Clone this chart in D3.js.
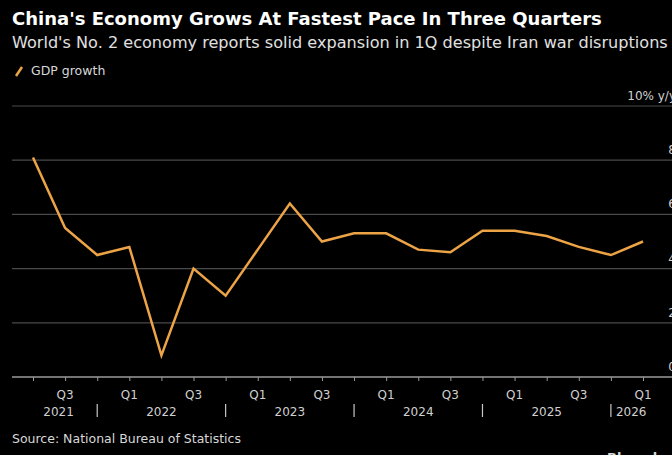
<!DOCTYPE html>
<html>
<head>
<meta charset="utf-8">
<script src="https://cdn.jsdelivr.net/npm/d3@7"></script>
<style>
  html, body { margin: 0; padding: 0; background: #000; overflow: hidden; }
  svg { display: block; }
  text { font-family: "DejaVu Sans", Verdana, sans-serif; }
</style>
</head>
<body>
<svg id="chart" width="672" height="455"></svg>
<script>
// Quarterly real GDP growth, % y/y
const quarters = [
  "2021Q2","2021Q3","2021Q4",
  "2022Q1","2022Q2","2022Q3","2022Q4",
  "2023Q1","2023Q2","2023Q3","2023Q4",
  "2024Q1","2024Q2","2024Q3","2024Q4",
  "2025Q1","2025Q2","2025Q3","2025Q4",
  "2026Q1"
];
const gdpGrowth = [
  8.1, 5.5, 4.5,
  4.8, 0.8, 4.0, 3.0,
  4.7, 6.4, 5.0, 5.3,
  5.3, 4.7, 4.6, 5.4,
  5.4, 5.2, 4.8, 4.5,
  5.0
];
const yTicks = [0, 2, 4, 6, 8, 10];
const yTickLabels = ["0", "2", "4", "6", "8", "10% y/y"];
const years = ["2021", "2022", "2023", "2024", "2025", "2026"];

const title = "China's Economy Grows At Fastest Pace In Three Quarters";
const subtitle = "World's No. 2 economy reports solid expansion in 1Q despite Iran war disruptions";
const legendLabel = "GDP growth";
const sourceNote = "Source: National Bureau of Statistics";

const W = 672, H = 455;
const plotLeft = 12, plotRight = 672;
const lineColor = "#eda446";
const labelColor = "#d0d0d0";

const svg = d3.select("#chart");
svg.append("rect").attr("width", W).attr("height", H).attr("fill", "#000");

const x = d3.scalePoint().domain(quarters).range([33, 643]);
const y = d3.scaleLinear().domain([0, 10]).range([377, 106]);

// Headline block
svg.append("text").attr("x", 12).attr("y", 25)
  .attr("fill", "#fff").attr("font-size", 18).attr("font-weight", "bold")
  .text(title);
svg.append("text").attr("x", 12).attr("y", 48)
  .attr("fill", "#e0e0e0").attr("font-size", 16.1)
  .text(subtitle);

// Legend
const leg = svg.append("g");
leg.append("line").attr("x1", 16).attr("y1", 76).attr("x2", 22).attr("y2", 67)
  .attr("stroke", lineColor).attr("stroke-width", 2.5);
leg.append("text").attr("x", 31).attr("y", 75)
  .attr("fill", "#d8d8d8").attr("font-size", 12.5)
  .text(legendLabel);

// Horizontal gridlines with right-hand labels
const grid = svg.append("g");
yTicks.forEach((t, i) => {
  if (t > 0) {
    grid.append("line")
      .attr("x1", plotLeft).attr("x2", plotRight)
      .attr("y1", y(t)).attr("y2", y(t))
      .attr("stroke", "#4a4a4a").attr("stroke-width", 1.2);
  }
  grid.append("text")
    .attr("x", 676).attr("y", y(t) - 6)
    .attr("text-anchor", "end")
    .attr("fill", labelColor).attr("font-size", 12)
    .text(yTickLabels[i]);
});

// Bottom axis with a tick at every quarter
const xAxis = d3.axisBottom(x)
  .tickSize(4)
  .tickFormat(() => "");
const axisG = svg.append("g").attr("transform", `translate(0,${y(0)})`).call(xAxis);
axisG.select(".domain").remove();
axisG.selectAll(".tick line").attr("stroke", "#9a9a9a").attr("stroke-width", 1);
axisG.append("line").attr("x1", plotLeft).attr("x2", plotRight)
  .attr("y1", 0).attr("y2", 0).attr("stroke", "#9a9a9a").attr("stroke-width", 1.3);

// Quarter labels on Q1 and Q3
const qLabels = quarters.filter(q => q.endsWith("Q1") || q.endsWith("Q3"));
svg.append("g").selectAll("text").data(qLabels).join("text")
  .attr("x", d => x(d)).attr("y", 399)
  .attr("text-anchor", "middle")
  .attr("fill", labelColor).attr("font-size", 12)
  .text(d => d.slice(4));

// Year labels, centred between year separators placed at each Q4
const q4 = quarters.filter(q => q.endsWith("Q4"));
const seps = q4.map(q => x(q));
const bounds = [plotLeft + 8].concat(seps).concat([x(quarters[quarters.length - 1])]);
svg.append("g").selectAll("line").data(seps).join("line")
  .attr("x1", d => d).attr("x2", d => d)
  .attr("y1", 404).attr("y2", 417)
  .attr("stroke", "#c8c8c8").attr("stroke-width", 1.2);
svg.append("g").selectAll("text").data(years).join("text")
  .attr("x", (d, i) => i === years.length - 1 ? bounds[i] + 5 : (bounds[i] + bounds[i + 1]) / 2)
  .attr("y", 416)
  .attr("text-anchor", (d, i) => i === years.length - 1 ? "start" : "middle")
  .attr("fill", labelColor).attr("font-size", 12)
  .text(d => d);

// GDP growth line
const line = d3.line()
  .x((d, i) => x(quarters[i]))
  .y(d => y(d));
svg.append("path")
  .datum(gdpGrowth)
  .attr("d", line)
  .attr("fill", "none")
  .attr("stroke", lineColor)
  .attr("stroke-width", 2.5)
  .attr("stroke-linejoin", "miter");

// Footer
svg.append("text").attr("x", 12).attr("y", 443)
  .attr("fill", "#d8d8d8").attr("font-size", 12.5)
  .text(sourceNote);
svg.append("text").attr("x", 607).attr("y", 462)
  .attr("fill", "#d8d8d8").attr("font-size", 13).attr("font-weight", "bold")
  .text("Bloomberg");
</script>
</body>
</html>
